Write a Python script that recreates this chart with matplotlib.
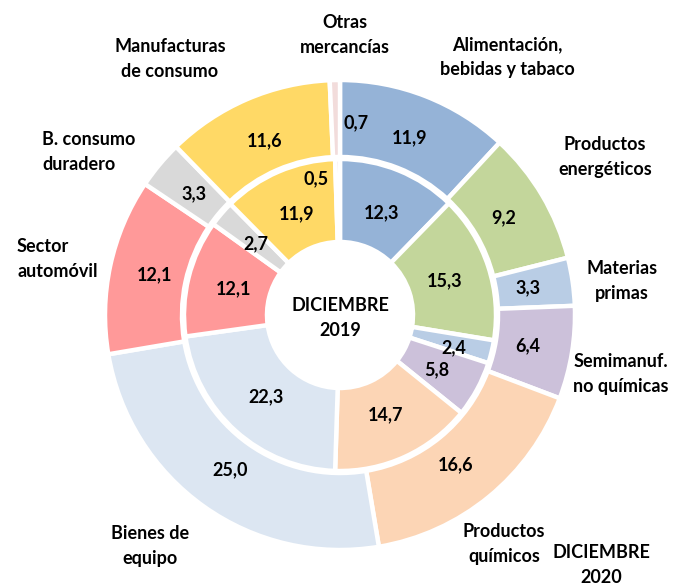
import numpy as np
import matplotlib
matplotlib.use("Agg")
import matplotlib.pyplot as plt

categories = ["Alimentación,\nbebidas y tabaco", "Productos\nenergéticos", "Materias\nprimas",
              "Semimanuf.\nno químicas", "Productos\nquímicos", "Bienes de\nequipo",
              "Sector\nautomóvil", "B. consumo\nduradero", "Manufacturas\nde consumo",
              "Otras\nmercancías"]
values_2020 = [11.9, 9.2, 3.3, 6.4, 16.6, 25.0, 12.1, 3.3, 11.6, 0.7]
values_2019 = [12.3, 15.3, 2.4, 5.8, 14.7, 22.3, 12.1, 2.7, 11.9, 0.5]
colors = ["#95B3D7", "#C3D69B", "#B9CDE5", "#CCC1DA", "#FCD5B5", "#DCE6F2",
          "#FF9999", "#D9D9D9", "#FFD966", "#F2DCDB"]
center_label = "DICIEMBRE\n2019"
outer_label = "DICIEMBRE\n2020"

FONT = "Lato"
FS = 13

fig = plt.figure(figsize=(6.78, 5.86), dpi=100)
ax = fig.add_axes([0, 0, 1, 1])

R_OUT, W_OUT = 235, 77
R_IN, W_IN = 156, 83
wp = dict(edgecolor="white", linewidth=3.2)
ax.pie(values_2020, radius=R_OUT, colors=colors, startangle=90, counterclock=False,
       wedgeprops=dict(width=W_OUT, **wp))
ax.pie(values_2019, radius=R_IN, colors=colors, startangle=90, counterclock=False,
       wedgeprops=dict(width=W_IN, **wp))

def fmt(v):
    return f"{v:.1f}".replace(".", ",")

def label_ring(vals, r, nudges):
    tot = sum(vals)
    cum = 0
    for i, v in enumerate(vals):
        mid = 90 - 360 * (cum + v / 2) / tot
        cum += v
        x = r * np.cos(np.radians(mid))
        y = r * np.sin(np.radians(mid))
        dx, dy = nudges.get(i, (0, 0))
        ax.text(x + dx, y + dy, fmt(v), ha="center", va="center",
                fontsize=FS, fontweight="bold", family=FONT)

label_ring(values_2020, 190, {9: (20, 2), 4: (-5, -3)})
label_ring(values_2019, 110, {9: (-22, 26), 2: (7, -7), 3: (0, -2)})

ax.text(0, -3, center_label, ha="center", va="center", fontsize=FS, fontweight="bold",
        family=FONT, linespacing=1.6)

# category labels (pixel offsets from pie centre)
cat_pos = {
    0: (167, 258, "center"), 1: (265, 158, "center"), 2: (282, 34, "center"),
    3: (281, -59, "center"), 4: (164, -229, "center"), 5: (-190, -231, "center"),
    6: (-323, 56, "left"), 7: (-298, 163, "left"), 8: (-170, 256, "center"),
    9: (5, 280, "center"),
}
for i, name in enumerate(categories):
    x, y, ha = cat_pos[i]
    ax.text(x, y, name, ha=ha, va="center", fontsize=FS, fontweight="bold",
            family=FONT, linespacing=1.55)
ax.text(261, -250, outer_label, ha="center", va="center", fontsize=FS,
        fontweight="bold", family=FONT, linespacing=1.55)

ax.set_xlim(-340, 338)
ax.set_ylim(-271, 315)
ax.set_aspect("equal")
ax.axis("off")
fig.savefig("out.png", dpi=100)
